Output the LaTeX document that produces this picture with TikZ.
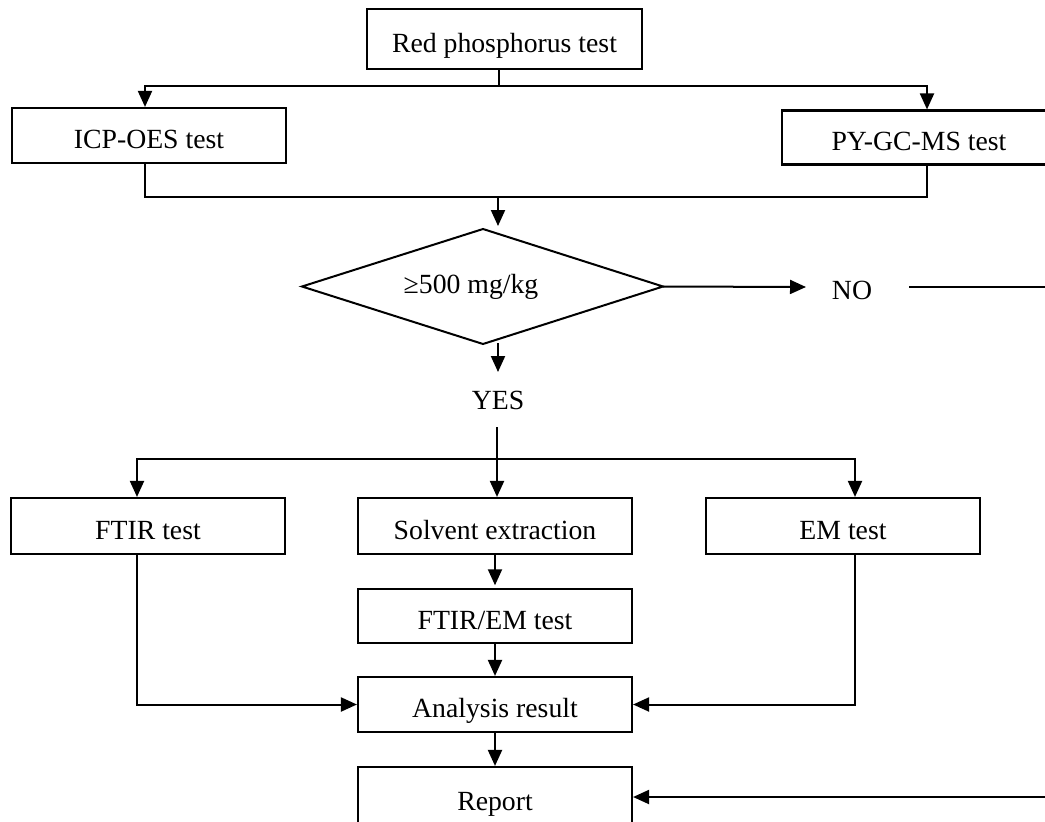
\documentclass[tikz,border=0pt]{standalone}
\usepackage{fontspec}
\setmainfont{Liberation Serif}
\usetikzlibrary{arrows.meta}
\begin{document}
\begin{tikzpicture}[x=0.75pt,y=-0.75pt,
  every node/.style={font=\fontsize{20.8pt}{25pt}\selectfont},
  box/.style={draw, line width=1.6pt, rectangle, inner sep=0pt, minimum width=205.5pt, text height=22pt, text depth=2pt},
  diaedge/.style={line width=1.5pt, line join=miter},
  ln/.style={line width=1.5pt},
  arr/.style={line width=1.5pt, -{Triangle[length=12pt,width=10.5pt]}}]
\useasboundingbox (0,0) rectangle (1045,821);
\clip (0,0) rectangle (1045,821);
% boxes
\node[box, minimum width=206.25pt, minimum height=45pt] (red) at (504.5,39) {Red phosphorus test};
\node[box, minimum height=41.25pt] (icp) at (149,135.5) {ICP-OES test};
\node[box, minimum height=40.5pt] (py) at (919,137.5) {PY-GC-MS test};
% decision diamond
\coordinate (dl) at (302,286.5);
\coordinate (dtop) at (483,229);
\coordinate (dr) at (663,286.5);
\coordinate (dbot) at (483,344);
\draw[diaedge] (dl) -- (dtop) -- (dr) -- (dbot) -- cycle;
\node (dia) at (471,287) {≥500 mg/kg};
\node (no) at (852,290) {NO};
\node (yes) at (498,400) {YES};
\node[box, minimum height=42pt] (ftir) at (148,526) {FTIR test};
\node[box, minimum height=42pt] (solv) at (495,526) {Solvent extraction};
\node[box, minimum height=42pt] (em) at (843,526) {EM test};
\node[box, minimum height=40.5pt] (ftirem) at (495,616) {FTIR/EM test};
\node[box, minimum height=41.25pt] (ana) at (495,704.5) {Analysis result};
\node[box, minimum height=45pt] (report) at (495,797) {Report};
% coordinates
\coordinate (jr) at (499,86);
\coordinate (jl) at (145,86);
\coordinate (jrr) at (927,86);
\coordinate (ml) at (145,197);
\coordinate (mr) at (927,197);
\coordinate (mc) at (498,197);
\coordinate (dt) at (498,226);
\coordinate (ys) at (498,343);
\coordinate (ye) at (498,372);
\coordinate (ne) at (806,287);
\coordinate (nr) at (909,287);
\coordinate (far) at (1060,287);
\coordinate (farb) at (1060,797);
\coordinate (yl) at (497,427);
\coordinate (s) at (497,459);
\coordinate (sl) at (137,459);
\coordinate (sr) at (855,459);
% connectors
\draw[ln] (jr |- red.south) -- (jr);
\draw[arr] (jr) -- (jl) -- (jl |- icp.north);
\draw[arr] (jr) -- (jrr) -- (jrr |- py.north);
\draw[ln] (ml |- icp.south) -- (ml) -- (mr) -- (mr |- py.south);
\draw[arr] (mc) -- (dt);
\draw[arr] (ys) -- (ye);
\draw[arr] (dr) -- (ne);
\draw[arr] (nr) -- (far) -- (farb) -- (report.east);
\draw[arr] (yl) -- (yl |- solv.north);
\draw[arr] (s) -- (sl) -- (sl |- ftir.north);
\draw[arr] (s) -- (sr) -- (sr |- em.north);
\draw[arr, shorten >=2pt] (solv.south) -- (ftirem.north);
\draw[arr] (ftirem.south) -- (ana.north);
\draw[arr] (ana.south) -- (report.north);
\draw[arr] (sl |- ftir.south) -- (sl |- ana.west) -- (ana.west);
\draw[arr] (sr |- em.south) -- (sr |- ana.east) -- (ana.east);
\end{tikzpicture}
\end{document}
